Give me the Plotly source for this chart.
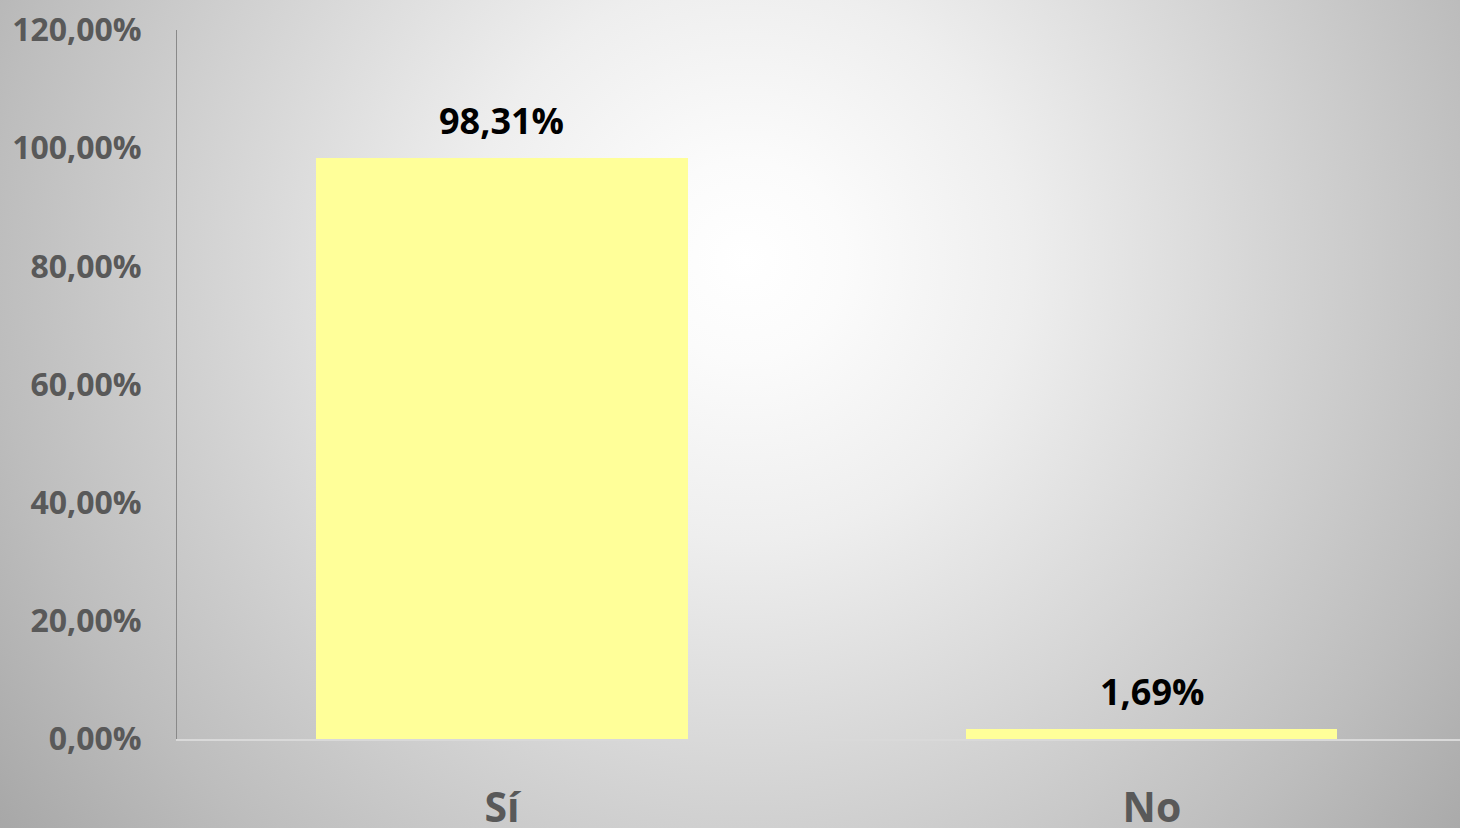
import base64
import plotly.graph_objects as go

# ---- data ----
categories = ["Sí", "No"]
values = [0.9831, 0.0169]
y_tick_values = [0, 0.2, 0.4, 0.6, 0.8, 1.0, 1.2]

W, H = 1460, 828
L, R, T, B = 177, 0, 30, 89
pw, ph = W - L - R, H - T - B

# radial background gradient (decorative) as SVG
svg = f'''<svg xmlns="http://www.w3.org/2000/svg" width="{W}" height="{H}" viewBox="0 0 {W} {H}">
<defs><radialGradient id="g" gradientUnits="userSpaceOnUse" cx="745" cy="260" r="1000">
<stop offset="0" stop-color="#ffffff"/>
<stop offset="0.1" stop-color="#fbfbfb"/>
<stop offset="0.28" stop-color="#eeeeee"/>
<stop offset="0.75" stop-color="#bdbdbd"/>
<stop offset="0.93" stop-color="#a8a8a8"/>
<stop offset="1" stop-color="#a3a3a3"/>
</radialGradient></defs>
<rect x="0" y="0" width="{W}" height="{H}" fill="url(#g)"/>
</svg>'''
src = "data:image/svg+xml;base64," + base64.b64encode(svg.encode()).decode()

fig = go.Figure()
fig.add_trace(go.Bar(
    x=categories, y=values,
    marker=dict(color="#ffff99", line=dict(width=0)),
    width=0.571,
    hoverinfo="skip",
))

for c, v in zip(categories, values):
    fig.add_annotation(
        x=c, y=v, xref="x", yref="y",
        text=f"{v*100:.2f}%".replace(".", ","),
        showarrow=False, yanchor="bottom", yshift=11,
        font=dict(family="Open Sans", size=36, color="#000000", weight="bold"),
    )

fig.update_layout(
    width=W, height=H,
    autosize=False,
    margin=dict(l=L, r=R, t=T, b=B, pad=0, autoexpand=False),
    paper_bgcolor="#b8b8b8",
    plot_bgcolor="rgba(0,0,0,0)",
    showlegend=False,
    separators=",.",
    bargap=0,
    images=[dict(
        source=src, xref="paper", yref="paper",
        x=-L / pw, y=1 + T / ph, sizex=W / pw, sizey=H / ph,
        xanchor="left", yanchor="top", sizing="stretch", layer="below",
    )],
    xaxis=dict(
        range=[-0.5, 1.474],
        automargin=False,
        showgrid=False, zeroline=False,
        showline=True, linecolor="#d9d9d9", linewidth=2,
        ticks="", ticklabelstandoff=32,
        tickfont=dict(family="Open Sans", size=41, color="#595959", weight="bold"),
        fixedrange=True,
    ),
    yaxis=dict(
        range=[0, 1.2],
        automargin=False,
        tickvals=y_tick_values, tickformat=".2%",
        showgrid=False, zeroline=False,
        showline=True, linecolor="#898989", linewidth=1,
        ticks="", ticklabelstandoff=28,
        tickfont=dict(family="Open Sans", size=32, color="#595959", weight="bold"),
        fixedrange=True,
    ),
)

fig.write_html(
    "out.html",
    config={"responsive": False, "displayModeBar": False},
    post_script="document.body.style.margin='0';document.body.style.padding='0';document.body.style.overflow='hidden';",
)
